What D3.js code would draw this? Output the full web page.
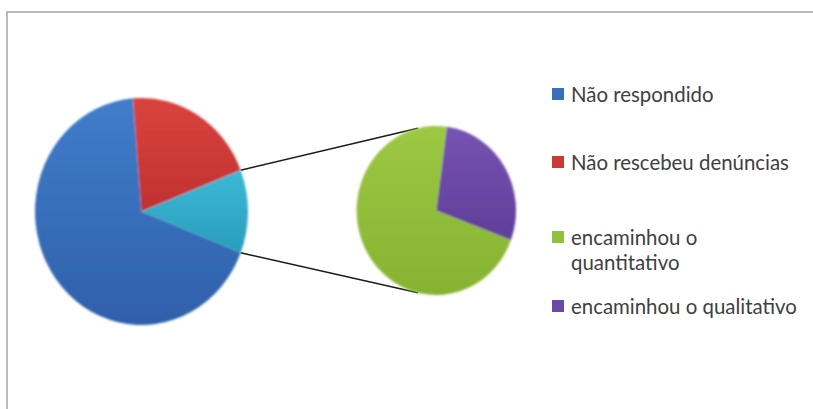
<!DOCTYPE html>
<html>
<head>
<meta charset="utf-8">
<script src="https://cdn.jsdelivr.net/npm/d3@7/dist/d3.min.js"></script>
<style>
  html, body { margin: 0; padding: 0; background: #ffffff; }
  svg { display: block; }
</style>
</head>
<body>
<svg id="chart" width="813" height="409"></svg>
<script>
// ---- Data ----
const mainCategories = ["Não respondido", "Não rescebeu denúncias", "Outros"];
const mainValues = [40, 12, 7];
const subCategories = ["encaminhou o quantitativo", "encaminhou o qualitativo"];
const subValues = [5, 2];
const legendLabels = [["Não respondido"], ["Não rescebeu denúncias"], ["encaminhou o", "quantitativo"], ["encaminhou o qualitativo"]];

// ---- Styles ----
const colors = {
  "Não respondido": ["#417dca", "#2f60aa"],
  "Não rescebeu denúncias": ["#d9443f", "#c0312e"],
  "Outros": ["#3bb9d6", "#2a9dbc"],
  "encaminhou o quantitativo": ["#9cc843", "#86b332"],
  "encaminhou o qualitativo": ["#7753b2", "#603e98"]
};
const legendColors = ["#3a6fba", "#cc3a36", "#93c13d", "#6b48a6"];

const svg = d3.select("#chart");
const defs = svg.append("defs");
Object.entries(colors).forEach(([k, c], i) => {
  const g = defs.append("linearGradient").attr("id", "g" + i)
    .attr("x1", 0).attr("y1", 0).attr("x2", 0).attr("y2", 1);
  g.append("stop").attr("offset", "0%").attr("stop-color", c[0]);
  g.append("stop").attr("offset", "100%").attr("stop-color", c[1]);
});
const gradId = k => "url(#g" + Object.keys(colors).indexOf(k) + ")";
const blur = defs.append("filter").attr("id", "soft").attr("x", "-10%").attr("y", "-10%").attr("width", "120%").attr("height", "120%");
blur.append("feGaussianBlur").attr("stdDeviation", 0.9);

// Frame
svg.append("rect").attr("x", 7).attr("y", 12).attr("width", 830).attr("height", 430)
  .attr("fill", "none").attr("stroke", "#a6a6a6").attr("stroke-width", 1.5);

// Geometry
const main = { cx: 141.5, cy: 211.5, rx: 106.5, ry: 113.5 };
const sub = { cx: 436.3, cy: 210.5, rx: 79.7, ry: 84.5 };

const total = d3.sum(mainValues);
const otherAngle = 2 * Math.PI * mainValues[2] / total;
const mainStart = Math.PI / 2 + otherAngle / 2;
const mainPie = d3.pie().sort(null).startAngle(mainStart).endAngle(mainStart + 2 * Math.PI);
const mainArcs = mainPie(mainValues);

const subStart = 110.5 * Math.PI / 180;
const subPie = d3.pie().sort(null).startAngle(subStart).endAngle(subStart + 2 * Math.PI);
const subArcs = subPie(subValues);

const pt = (e, a) => [e.cx + e.rx * Math.sin(a), e.cy - e.ry * Math.cos(a)];

// Connector lines
const other = mainArcs[2];
const linkAngle = 13.3 * Math.PI / 180;
const links = [
  [pt(main, other.startAngle), pt(sub, -linkAngle)],
  [pt(main, other.endAngle), pt(sub, Math.PI + linkAngle)]
];
svg.selectAll("line.link").data(links).enter().append("line")
  .attr("x1", d => d[0][0]).attr("y1", d => d[0][1])
  .attr("x2", d => d[1][0]).attr("y2", d => d[1][1])
  .attr("stroke", "#1a1a1a").attr("stroke-width", 1.5);

// Main pie
const mainArc = d3.arc().innerRadius(0).outerRadius(main.rx);
const gMain = svg.append("g")
  .attr("transform", `translate(${main.cx},${main.cy}) scale(1,${main.ry / main.rx})`)
  .attr("filter", "url(#soft)");
gMain.selectAll("path").data(mainArcs).enter().append("path")
  .attr("d", mainArc)
  .attr("fill", (d, i) => gradId(mainCategories[i]));

// Secondary pie
const subArc = d3.arc().innerRadius(0).outerRadius(sub.rx);
const gSub = svg.append("g")
  .attr("transform", `translate(${sub.cx},${sub.cy}) scale(1,${sub.ry / sub.rx})`)
  .attr("filter", "url(#soft)");
gSub.selectAll("path").data(subArcs).enter().append("path")
  .attr("d", subArc)
  .attr("fill", (d, i) => gradId(subCategories[i]));

// Legend
const legendY = [94, 162, 237, 306];
const lineGap = 25;
const legend = svg.append("g").attr("font-family", "Lato, 'Open Sans', sans-serif").attr("fill", "#404040");
let fs = 17;
const probe = legend.append("text").attr("font-size", fs).text("Não rescebeu denúncias");
const w = probe.node().getComputedTextLength();
fs = fs * 218 / w;
probe.remove();
legendLabels.forEach((lines, i) => {
  legend.append("rect").attr("x", 552).attr("y", legendY[i] - 6).attr("width", 12).attr("height", 12)
    .attr("fill", legendColors[i]);
  const t = legend.append("text").attr("x", 571).attr("y", legendY[i])
    .attr("dominant-baseline", "central").attr("font-size", fs);
  lines.forEach((l, j) => {
    t.append("tspan").attr("x", 571).attr("dy", j === 0 ? 0 : lineGap).text(l);
  });
});
</script>
</body>
</html>
